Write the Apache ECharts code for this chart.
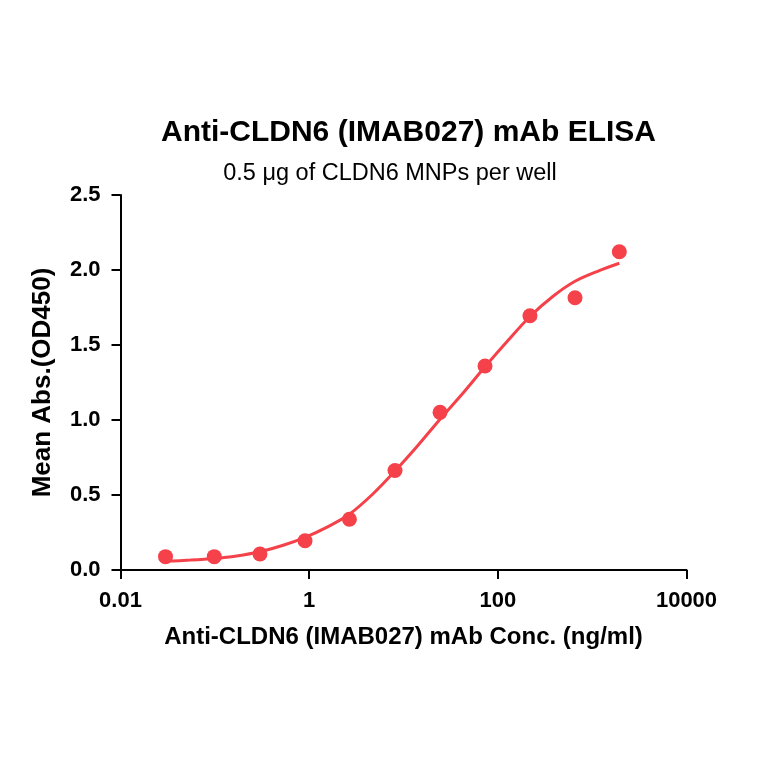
<!DOCTYPE html>
<html>
<head>
<meta charset="utf-8">
<script src="https://cdn.jsdelivr.net/npm/echarts@6/dist/echarts.min.js"></script>
<style>html,body{margin:0;padding:0;background:#fff}#c{width:764px;height:764px}</style>
</head>
<body>
<div id="c"></div>
<script>
// Measured points (concentration ng/ml, mean OD450)
var concentrations = [0.03, 0.0986, 0.301, 0.904, 2.67, 8.13, 24.4, 73.1, 219, 658, 1941];
var absorbances = [0.089, 0.089, 0.107, 0.195, 0.338, 0.663, 1.051, 1.36, 1.695, 1.815, 2.122];
// Fitted curve
var curveX = [0.03, 0.055, 0.0986, 0.17, 0.301, 0.52, 0.904, 1.57, 2.67, 4.7, 8.13, 14.2, 24.4, 42.8, 73.1, 128, 219, 385, 658, 1155, 1941];
var curveY = [0.058, 0.066, 0.077, 0.094, 0.122, 0.163, 0.218, 0.288, 0.372, 0.505, 0.66, 0.83, 1.005, 1.18, 1.355, 1.53, 1.69, 1.825, 1.925, 1.993, 2.045];
var xTickLabels = {'-2': '0.01', '0': '1', '2': '100', '4': '10000'};

var titleText = 'Anti-CLDN6 (IMAB027) mAb ELISA';
var subtitleText = '0.5 μg of CLDN6 MNPs per well';
var xName = 'Anti-CLDN6 (IMAB027) mAb Conc. (ng/ml)';
var yName = 'Mean Abs.(OD450)';

var red = '#F4414A';
var font = '"Liberation Sans", Arial, Helvetica, sans-serif';

var chart = echarts.init(document.getElementById('c'), null, {renderer: 'canvas'});
chart.setOption({
  animation: false,
  backgroundColor: '#ffffff',
  textStyle: {fontFamily: font},
  title: [
    {text: titleText, left: 403.5, top: 113, textAlign: 'center',
     textStyle: {fontFamily: font, fontSize: 30, fontWeight: 'bold', color: '#000'}},
    {text: subtitleText, left: 385, top: 157, textAlign: 'center',
     textStyle: {fontFamily: font, fontSize: 23.5, fontWeight: 'normal', color: '#000'}}
  ],
  grid: {left: 120.5, right: 77.5, top: 195, bottom: 194, containLabel: false},
  xAxis: {
    type: 'log', logBase: 10, min: 0.01, max: 10000, interval: 2,
    name: xName, nameLocation: 'middle', nameGap: 55,
    nameTextStyle: {fontFamily: font, fontSize: 24, fontWeight: 'bold', color: '#000'},
    axisLine: {show: true, onZero: false, lineStyle: {color: '#000', width: 2}},
    axisTick: {show: true, inside: false, length: 9, lineStyle: {color: '#000', width: 2}},
    minorTick: {show: false},
    splitLine: {show: false},
    axisLabel: {margin: 20, fontFamily: font, fontSize: 22, fontWeight: 'bold', color: '#000',
      formatter: function (v) { var e = Math.round(Math.log10(v)); return xTickLabels[String(e)] || ''; }}
  },
  yAxis: {
    type: 'value', min: 0, max: 2.5, interval: 0.5,
    name: yName, nameLocation: 'middle', nameGap: 65,
    nameTextStyle: {fontFamily: font, fontSize: 26, fontWeight: 'bold', color: '#000'},
    axisLine: {show: true, onZero: false, lineStyle: {color: '#000', width: 2}},
    axisTick: {show: true, inside: false, length: 9, lineStyle: {color: '#000', width: 2}},
    splitLine: {show: false},
    axisLabel: {margin: 20, fontFamily: font, fontSize: 22, fontWeight: 'bold', color: '#000',
      formatter: function (v) { return v.toFixed(1); }}
  },
  series: [
    {
      type: 'line', name: 'fit', smooth: 0.3, showSymbol: false, symbol: 'none',
      data: curveX.map(function (x, i) { return [x, curveY[i]]; }),
      lineStyle: {color: red, width: 3}, z: 2
    },
    {
      type: 'scatter', name: 'data', symbol: 'circle', symbolSize: 15,
      data: concentrations.map(function (x, i) { return [x, absorbances[i]]; }),
      itemStyle: {color: red, opacity: 1}, z: 3
    }
  ]
});
</script>
</body>
</html>
